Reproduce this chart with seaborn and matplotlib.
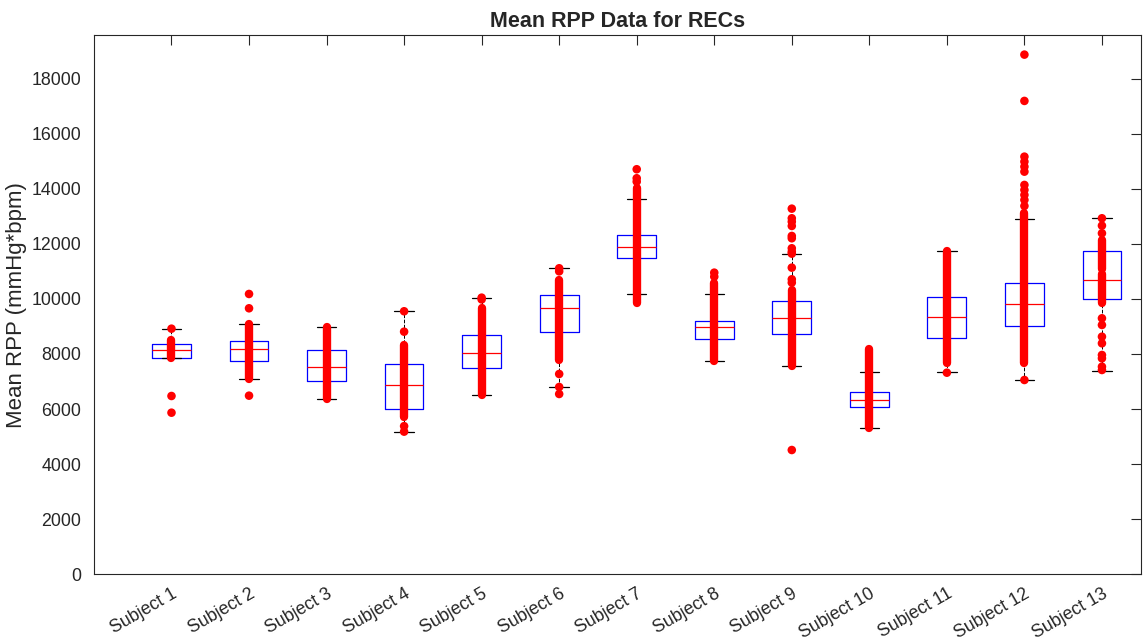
"""Mean RPP box plot per subject (MATLAB-style boxes with raw readings overlaid)."""
import numpy as np
import pandas as pd
import matplotlib
matplotlib.use('Agg')
import matplotlib.pyplot as plt
import seaborn as sns

subjects = [f'Subject {i}' for i in range(1, 14)]

# box statistics (mmHg*bpm)
q1 = [7865, 7745, 7019, 6013, 7491, 8787, 11474, 8555, 8714, 6075, 8569, 9027, 9985]
med = [8144, 8181, 7538, 6885, 8047, 9670, 11873, 8991, 9295, 6329, 9354, 9803, 10686]
q3 = [8351, 8471, 8133, 7625, 8689, 10142, 12331, 9209, 9935, 6608, 10058, 10588, 11750]
whis_lo = [7843, 7103, 6354, 5156, 6522, 6801, 10178, 7745, 7564, 5323, 7335, 7055, 7393]
whis_hi = [8918, 9100, 8991, 9550, 10044, 11111, 13638, 10167, 11641, 7357, 11728, 12901, 12926]

# stretches where the readings are so dense they merge into a solid column
dense_spans = [
    [(7843, 8507)],
    [(7103, 9100)],
    [(6354, 8991)],
    [(5720, 8320)],
    [(6522, 9658)],
    [(7782, 10686)],
    [(9840, 14016)],
    [(7745, 10567)],
    [(7564, 10323)],
    [(5323, 8170)],
    [(7661, 11728)],
    [(7661, 13108)],
    [(11080, 12138), (9840, 10900)],
]

# separate readings that stand out on their own
single_points = [
    [8918, 6474, 5868],
    [10178, 9658, 6486],
    [],
    [9550, 8809, 5380, 5180],
    [10044, 9980],
    [11111, 11000, 7273, 6801, 6547],
    [14706, 14379, 14256],
    [10952, 10806],
    [13275, 12926, 12803, 12647, 12284, 12200, 11837, 11714, 11641, 11133, 10711, 10589, 4513],
    [],
    [7320],
    [18867, 17186, 15163, 14982, 14800, 14618, 14136, 13955, 13773, 13592, 13373, 7055],
    [12926, 12658, 12382, 9295, 9052, 8627, 8387, 7963, 7842, 7538, 7418],
]

sns.set_style('white')
plt.rcParams['font.family'] = ['Liberation Sans', 'DejaVu Sans']

fig = plt.figure(figsize=(11.43, 6.43), dpi=100)
ax = fig.add_axes([0.0822, 0.1068, 0.9158, 0.8388])

positions = np.arange(1, len(subjects) + 1)
stats = [dict(q1=a, med=b, q3=c, whislo=d, whishi=e, fliers=[])
         for a, b, c, d, e in zip(q1, med, q3, whis_lo, whis_hi)]
ax.bxp(stats, positions=positions, widths=0.5, showfliers=False,
       boxprops=dict(color='#0000ff', linewidth=0.9),
       medianprops=dict(color='#ff0000', linewidth=0.9),
       whiskerprops=dict(color='black', linewidth=0.7, linestyle='--'),
       capprops=dict(color='black', linewidth=0.9),
       capwidths=0.25, manage_ticks=False, zorder=2)

for pos, spans in zip(positions, dense_spans):
    for lo, hi in spans:
        ax.vlines(pos, lo, hi, color='#ff0000', linewidth=6, capstyle='round', zorder=3)

pts = pd.DataFrame([(pos, v) for pos, vals in zip(positions, single_points) for v in vals],
                   columns=['pos', 'rpp'])
sns.scatterplot(data=pts, x='pos', y='rpp', ax=ax, color='#ff0000', s=38,
                edgecolor='none', zorder=3, legend=False)

ax.set_xlim(0, 13.5)
ax.set_ylim(0, 19580)
ax.set_yticks(np.arange(0, 18001, 2000))
ax.set_xticks(positions)
ax.set_xticklabels(subjects, rotation=30, ha='right', rotation_mode='anchor', fontsize=12)
ax.set_xlabel('')
ax.set_ylabel('Mean RPP (mmHg*bpm)', fontsize=16, color='#262626', labelpad=3)
ax.set_title('Mean RPP Data for RECs', fontsize=15.5, fontweight='bold', pad=6)

ax.tick_params(axis='both', direction='in', length=7, width=0.8, colors='#262626',
               labelsize=12.8, top=True, right=True, labeltop=False, labelright=False)
ax.tick_params(axis='y', pad=9)
ax.tick_params(axis='x', pad=8)
for sp in ax.spines.values():
    sp.set_color('#262626')
    sp.set_linewidth(0.8)

fig.savefig('out.png', dpi=100)
